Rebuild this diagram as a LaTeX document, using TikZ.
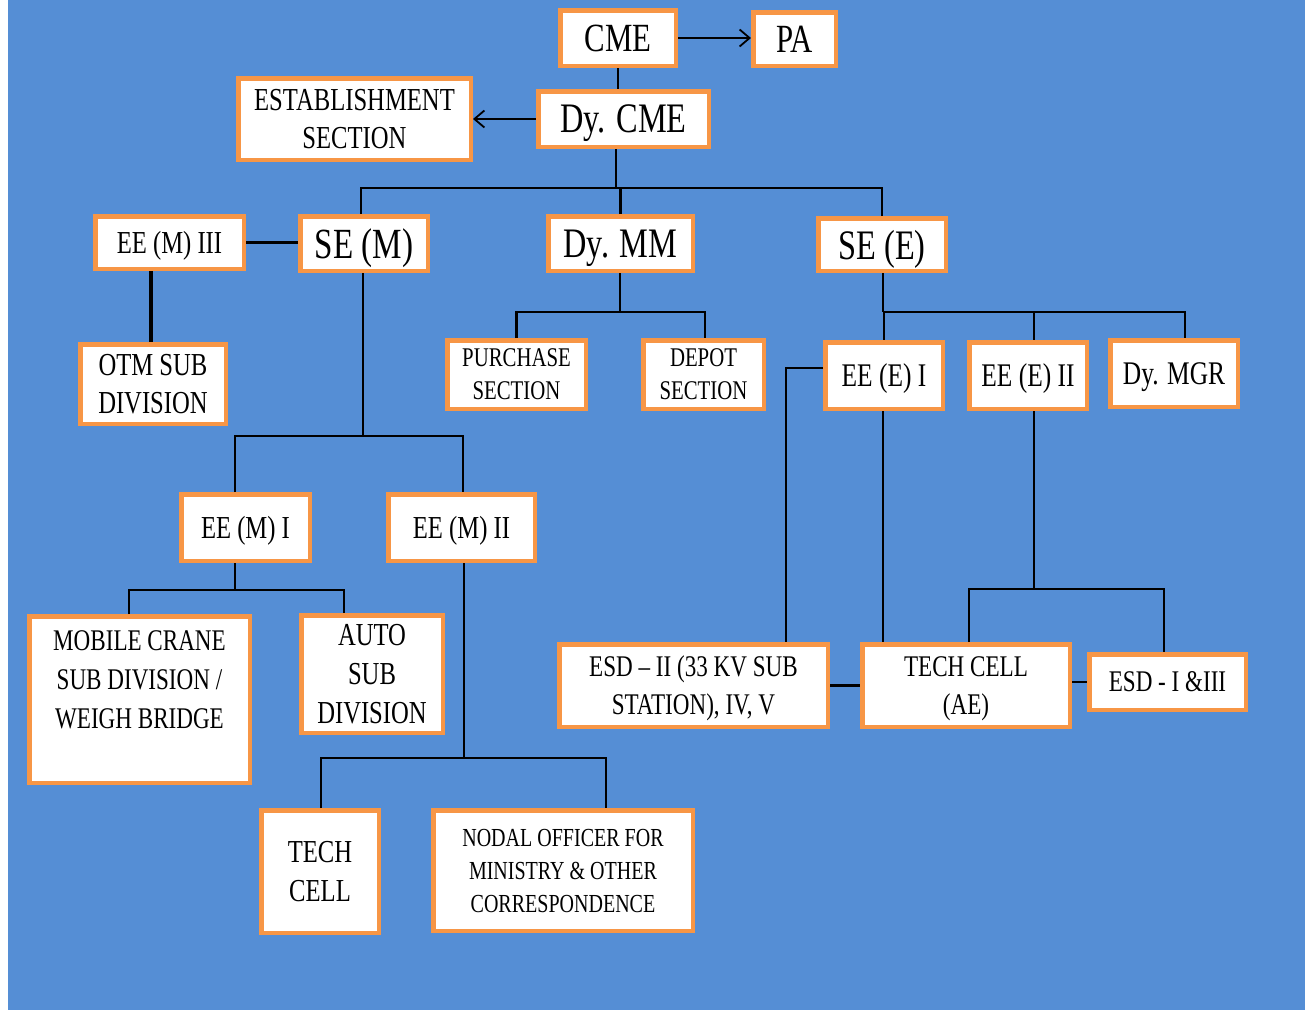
\documentclass[tikz,border=0pt]{standalone}
\usepackage{fontspec}
\setmainfont{Liberation Serif}[FakeStretch=0.77]
\usetikzlibrary{arrows.meta}
\definecolor{bgblue}{HTML}{558ED5}
\definecolor{orgb}{HTML}{F79646}
\tikzset{
  bx/.style={draw=orgb, line width=4.5pt, fill=white, align=center, inner sep=0pt, text=black, text depth=0pt},
  thk/.style={line width=2.8pt, black},
  thn/.style={line width=1.5pt, black},
  barb/.style={-{Straight Barb[length=10pt,width=17pt,line width=1.8pt]}},
}
\newcommand\bx[8]{\node[bx, minimum width={#4pt-4.5pt}, minimum height={#5pt-4.5pt},
  font={\fontsize{#6}{#7}\selectfont}] (#1) at (#2,#3) {#8};}
\begin{document}
\begin{tikzpicture}[x=1pt,y=-1pt]
\useasboundingbox (0,0) rectangle (1309,1010);
\fill[white] (0,0) rectangle (1309,1010);
\fill[bgblue] (8,0) rectangle (1305,1010);
% boxes
\bx{cme}{618}{38}{120}{60}{40}{48}{CME}
\bx{pa}{794.5}{39}{87}{58}{40}{48}{PA}
\bx{dycme}{623.5}{119}{175}{60}{42}{50}{Dy. CME}
\bx{est}{354.5}{119}{237}{86}{32}{38}{ESTABLISHMENT\\SECTION}
\bx{eem3}{169.5}{242.5}{153}{57}{32}{38}{EE (M) III}
\bx{sem}{364}{243.5}{132}{59}{43}{50}{SE (M)}
\bx{dymm}{620.5}{243.5}{149}{59}{42}{50}{Dy. MM}
\bx{see}{882}{244.5}{132}{57}{42}{50}{SE (E)}
\bx{otm}{153}{384}{150}{84}{32}{38}{OTM SUB\\DIVISION}
\bx{pur}{516.5}{374.5}{143}{73}{27}{33}{PURCHASE\\SECTION}
\bx{dep}{703.5}{374.5}{125}{73}{27}{33}{DEPOT\\SECTION}
\bx{eee1}{884}{375.5}{122}{71}{33}{40}{EE (E) I}
\bx{eee2}{1028}{375.5}{122}{71}{33}{40}{EE (E) II}
\bx{dymgr}{1174}{373.5}{132}{71}{33}{40}{Dy. MGR}
\bx{eem1}{245.5}{527.5}{133}{71}{32}{38}{EE (M) I}
\bx{eem2}{461.5}{527.5}{151}{71}{32}{38}{EE (M) II}
\bx{mob}{139.5}{699.5}{225}{171}{30}{39}{MOBILE CRANE\\SUB DIVISION /\\WEIGH BRIDGE\\\mbox{}}
\bx{auto}{372}{674}{146}{122}{32}{39}{AUTO\\SUB\\DIVISION}
\bx{esd2}{693.5}{685.5}{273}{87}{30}{38}{ESD -- II (33 KV SUB\\STATION), IV, V}
\bx{tca}{966}{685.5}{212}{87}{30}{38}{TECH CELL\\(AE)}
\bx{esd1}{1167.5}{682}{161}{60}{30}{38}{ESD - I \&III}
\bx{tcb}{320}{871.5}{122}{127}{32}{39}{TECH\\CELL}
\bx{nodal}{563}{870.5}{264}{125}{26}{33}{NODAL OFFICER FOR\\MINISTRY \& OTHER\\CORRESPONDENCE}
% coordinates
\coordinate (b1) at (616,188);
\coordinate (b2) at (363,436);
\coordinate (b3) at (620,312);
\coordinate (b4) at (883,312);
\coordinate (b5) at (786,368);
\coordinate (b6) at (1034,589);
\coordinate (b7) at (235,590);
\coordinate (b8) at (464,758);
% connectors
\draw[thk,barb] (cme.east) -- (pa.west |- cme.east);
\draw[thk] (cme.south) -- (cme.south |- dycme.north);
\draw[thn,barb] (dycme.west) -- (est.east);
\draw[thn] (dycme.south -| b1) -- (b1);
\draw[thk] ([xshift=-3pt]sem.north) -- ([xshift=-3pt]sem.north |- b1) -- (see.north |- b1) -- (see.north);
\draw[thk] (dymm.north |- b1) -- (dymm.north);
\draw[thk] (eem3.east) -- (eem3.east -| sem.west);
\draw[line width=4pt] ([xshift=-2pt]otm.north |- eem3.south) -- ([xshift=-2pt]otm.north);
% SE(M) subtree
\draw[thn] (sem.south -| b2) -- (b2);
\draw[thn] ([xshift=-10.5pt]eem1.north) -- ([xshift=-10.5pt]eem1.north |- b2) -- ([xshift=1.5pt]eem2.north |- b2) -- ([xshift=1.5pt]eem2.north);
% Dy. MM subtree
\draw[thn] (dymm.south -| b3) -- (b3);
\draw[thk] (pur.north) -- (pur.north |- b3) -- ([xshift=1.5pt]dep.north |- b3) -- ([xshift=1.5pt]dep.north);
% SE(E) subtree
\draw[thn] (see.south -| b4) -- (b4);
\draw[thn] (eee1.north |- b4) -- (eee1.north);
\draw[thn] (b4) -- ([xshift=11pt]dymgr.north |- b4) -- ([xshift=11pt]dymgr.north);
\draw[thn] ([xshift=6pt]eee2.north |- b4) -- ([xshift=6pt]eee2.north);
% EE(E) I
\draw[thn] (eee1.west |- b5) -- (b5) -- (esd2.north -| b5);
\draw[thn] ([xshift=-1pt]eee1.south) -- ([xshift=-1pt]eee1.south |- tca.north);
% EE(E) II
\draw[thn] (eee2.south -| b6) -- (b6);
\draw[thn] ([xshift=3pt]tca.north) -- ([xshift=3pt]tca.north |- b6) -- ([xshift=-3.5pt]esd1.north |- b6) -- ([xshift=-3.5pt]esd1.north);
\draw[thk] (esd2.east) -- (tca.west);
\draw[thk] (esd1.west -| tca.east) -- (esd1.west);
% EE(M) I subtree
\draw[thn] (eem1.south -| b7) -- (b7);
\draw[thn] ([xshift=-10.5pt]mob.north) -- ([xshift=-10.5pt]mob.north |- b7) -- ([xshift=-28pt]auto.north |- b7) -- ([xshift=-28pt]auto.north);
% EE(M) II subtree
\draw[thn] (eem2.south -| b8) -- (b8);
\draw[thn] ([xshift=1pt]tcb.north) -- ([xshift=1pt]tcb.north |- b8) -- ([xshift=43pt]nodal.north |- b8) -- ([xshift=43pt]nodal.north);
\end{tikzpicture}
\end{document}
